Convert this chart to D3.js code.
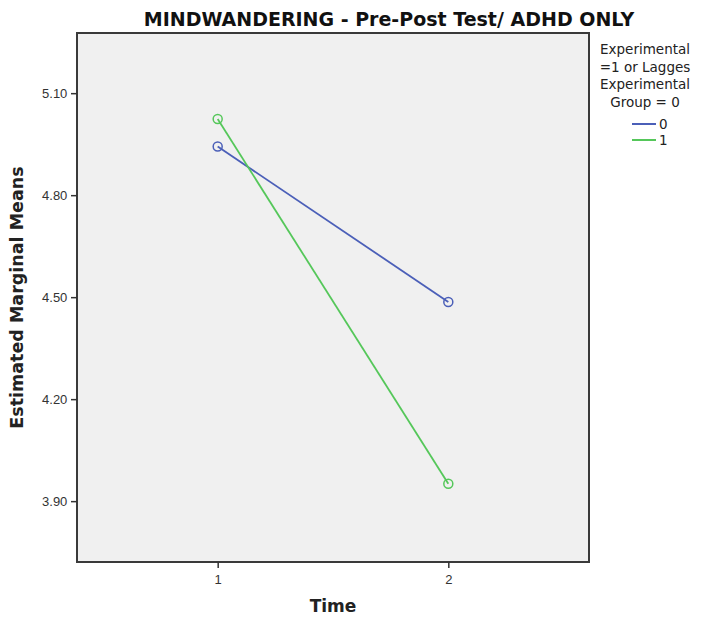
<!DOCTYPE html>
<html>
<head>
<meta charset="utf-8">
<script src="https://cdn.jsdelivr.net/npm/d3@7"></script>
<style>
  body { margin: 0; background: #fff; }
  svg { display: block; font-family: 'DejaVu Sans', sans-serif; }
</style>
</head>
<body>
<div class="chart"></div>
<script>
// data
const times = [1, 2];
const groups = ['0', '1'];
const group0Means = [4.943, 4.486];
const group1Means = [5.024, 3.951];
const yTicks = [3.90, 4.20, 4.50, 4.80, 5.10];
const colors = ['#4b5fb8', '#55c75a'];

const series = [
    { name: groups[0], values: group0Means, color: colors[0] },
    { name: groups[1], values: group1Means, color: colors[1] }
];

const margin = { top: 33, right: 118, bottom: 55, left: 77 };
const width = 707 - margin.left - margin.right;
const height = 617 - margin.top - margin.bottom;

const svg = d3.select('.chart')
    .append('svg')
    .attr('width', 707)
    .attr('height', 617);

const g = svg.append('g')
    .attr('transform', `translate(${margin.left}, ${margin.top})`);

// scales
const xScale = d3.scaleLinear()
    .domain([0.39, 2.61])
    .range([0, width]);

const yScale = d3.scaleLinear()
    .domain([3.721, 5.277])
    .range([height, 0]);

// plot background
g.append('rect')
    .attr('width', width)
    .attr('height', height)
    .attr('fill', '#f0f0f0')
    .attr('stroke', '#3a3a3a')
    .attr('stroke-width', 2);

// axes
const yAxis = d3.axisLeft(yScale)
    .tickValues(yTicks)
    .tickFormat(d3.format('.2f'))
    .tickSizeInner(6)
    .tickSizeOuter(0);

const yAxisDraw = g.append('g').call(yAxis);
yAxisDraw.select('.domain').remove();
yAxisDraw.selectAll('line').attr('stroke', '#333').attr('stroke-width', 1.5);
yAxisDraw.selectAll('text')
    .attr('font-size', 13)
    .attr('fill', '#333')
    .attr('dx', '-0.05em');

const xAxis = d3.axisBottom(xScale)
    .tickValues(times)
    .tickFormat(d3.format('d'))
    .tickSizeInner(6)
    .tickSizeOuter(0);

const xAxisDraw = g.append('g')
    .attr('transform', `translate(0, ${height})`)
    .call(xAxis);
xAxisDraw.select('.domain').remove();
xAxisDraw.selectAll('line').attr('stroke', '#333').attr('stroke-width', 1.5);
xAxisDraw.selectAll('text')
    .attr('font-size', 13)
    .attr('fill', '#333')
    .attr('dy', '1.0em');

// lines and markers
const line = d3.line()
    .x((d, i) => xScale(times[i]))
    .y(d => yScale(d));

series.forEach(s => {
    g.append('path')
        .datum(s.values)
        .attr('d', line)
        .attr('fill', 'none')
        .attr('stroke', s.color)
        .attr('stroke-width', 1.8);

    g.selectAll(null)
        .data(s.values)
        .enter()
        .append('circle')
            .attr('cx', (d, i) => xScale(times[i]))
            .attr('cy', d => yScale(d))
            .attr('r', 4.5)
            .attr('fill', 'none')
            .attr('stroke', s.color)
            .attr('stroke-width', 1.5);
});

// title
svg.append('text')
    .attr('x', 389)
    .attr('y', 26)
    .attr('text-anchor', 'middle')
    .attr('font-size', 19)
    .attr('font-weight', 'bold')
    .attr('fill', '#111')
    .text('MINDWANDERING - Pre-Post Test/ ADHD ONLY');

// axis titles
svg.append('text')
    .attr('x', margin.left + width / 2)
    .attr('y', 612)
    .attr('text-anchor', 'middle')
    .attr('font-size', 17)
    .attr('font-weight', 'bold')
    .attr('fill', '#222')
    .text('Time');

svg.append('text')
    .attr('transform', `translate(23, ${margin.top + height / 2}) rotate(-90)`)
    .attr('text-anchor', 'middle')
    .attr('font-size', 17.5)
    .attr('font-weight', 'bold')
    .attr('fill', '#222')
    .text('Estimated Marginal Means');

// legend
const legendTitle = ['Experimental', '=1 or Lagges', 'Experimental', 'Group = 0'];
const legend = svg.append('g').attr('transform', 'translate(645, 0)');

legend.append('text')
    .attr('text-anchor', 'middle')
    .attr('font-size', 13.5)
    .attr('fill', '#222')
    .selectAll('tspan')
    .data(legendTitle)
    .enter()
    .append('tspan')
        .attr('x', 0)
        .attr('y', (d, i) => 54 + i * 17.5)
        .text(d => d);

const items = legend.selectAll('.item')
    .data(series)
    .enter()
    .append('g')
        .attr('class', 'item')
        .attr('transform', (d, i) => `translate(0, ${124 + i * 16})`);

items.append('line')
    .attr('x1', -13)
    .attr('x2', 11)
    .attr('stroke', d => d.color)
    .attr('stroke-width', 2);

items.append('text')
    .attr('x', 14)
    .attr('y', 5)
    .attr('font-size', 13.5)
    .attr('fill', '#222')
    .text(d => d.name);
</script>
</body>
</html>
